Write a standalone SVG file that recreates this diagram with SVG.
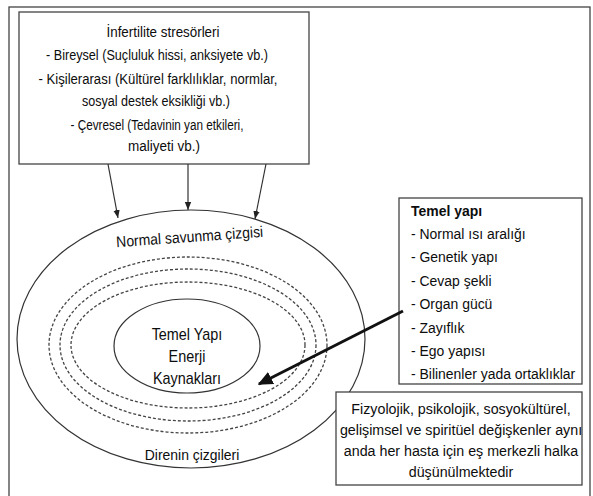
<svg xmlns="http://www.w3.org/2000/svg" width="593" height="496" viewBox="0 0 593 496">
<style>
  .t{font-family:"Liberation Sans",Arial,sans-serif;font-size:15.5px;fill:#0d0d0d}
  .c{text-anchor:middle}
  .b{font-weight:bold}
  .box{fill:#fff;stroke:#444;stroke-width:1.3}
  .ln{fill:none;stroke:#333;stroke-width:1.2}
  .dash{fill:none;stroke:#444;stroke-width:1.3;stroke-dasharray:3 2}
</style>
<defs>
  <marker id="ah" viewBox="0 0 10 10" refX="10" refY="5" markerWidth="8" markerHeight="8" markerUnits="userSpaceOnUse" orient="auto">
    <path d="M0,1 L10,5 L0,9 z" fill="#222"/>
  </marker>
  <marker id="ahb" viewBox="0 0 10 10" refX="9" refY="5" markerWidth="5" markerHeight="5" orient="auto">
    <path d="M0,0.5 L10,5 L0,9.5 z" fill="#111"/>
  </marker>
</defs>
<rect x="9" y="7" width="581" height="500" fill="#fff" stroke="#444" stroke-width="1.3"/>

<g id="model">
  <ellipse class="ln" cx="191" cy="339" rx="174" ry="129"/>
  <ellipse class="dash" cx="188" cy="345" rx="139" ry="88"/>
  <ellipse class="dash" cx="188" cy="345" rx="128" ry="76"/>
  <ellipse class="dash" cx="188" cy="345" rx="117" ry="63"/>
  <g transform="translate(190,242) rotate(-4) scale(0.9,1)">
    <text class="t c" x="0" y="0">Normal savunma çizgisi</text>
  </g>
  <g transform="translate(192,460) scale(0.9,1)">
    <text class="t c" x="0" y="0">Direnin çizgileri</text>
  </g>
</g>

<g id="core">
  <ellipse class="ln" cx="187" cy="346" rx="73" ry="47"/>
  <g transform="translate(187,0) scale(0.9,1)">
    <text class="t c" x="0" y="340" style="font-size:16px">Temel Yapı</text>
    <text class="t c" x="0" y="362" style="font-size:16px">Enerji</text>
    <text class="t c" x="0" y="384" style="font-size:16px">Kaynakları</text>
  </g>
</g>

<g id="stressors">
  <rect class="box" x="19" y="12" width="290" height="152"/>
  <text class="t c" x="163" y="37" textLength="113" lengthAdjust="spacingAndGlyphs">İnfertilite stresörleri</text>
  <text class="t c" x="157" y="60" textLength="222" lengthAdjust="spacingAndGlyphs">- Bireysel (Suçluluk hissi, anksiyete vb.)</text>
  <text class="t c" x="158" y="84" textLength="239" lengthAdjust="spacingAndGlyphs">- Kişilerarası (Kültürel farklılıklar, normlar,</text>
  <text class="t c" x="156" y="106" textLength="148" lengthAdjust="spacingAndGlyphs">sosyal destek eksikliği vb.)</text>
  <text class="t c" x="157" y="130" textLength="173" lengthAdjust="spacingAndGlyphs">- Çevresel (Tedavinin yan etkileri,</text>
  <text class="t c" x="164" y="151" textLength="72" lengthAdjust="spacingAndGlyphs">maliyeti vb.)</text>
</g>

<g id="temel">
  <rect class="box" x="399" y="198" width="183" height="186"/>
  <g transform="translate(411,0) scale(0.9,1)">
    <text class="t b" x="0" y="216">Temel yapı</text>
    <text class="t" x="0" y="239">- Normal ısı aralığı</text>
    <text class="t" x="0" y="262">- Genetik yapı</text>
    <text class="t" x="0" y="286">- Cevap şekli</text>
    <text class="t" x="0" y="309">- Organ gücü</text>
    <text class="t" x="0" y="333">- Zayıflık</text>
    <text class="t" x="0" y="356">- Ego yapısı</text>
    <text class="t" x="0" y="379">- Bilinenler yada ortaklıklar</text>
  </g>
</g>

<g id="note">
  <rect class="box" x="336" y="392" width="246" height="93"/>
  <g transform="translate(461,0) scale(0.92,1)">
    <text class="t c" x="0" y="414">Fizyolojik, psikolojik, sosyokültürel,</text>
    <text class="t c" x="0" y="435">gelişimsel ve spiritüel değişkenler aynı</text>
    <text class="t c" x="0" y="456">anda her hasta için eş merkezli halka</text>
    <text class="t c" x="0" y="477">düşünülmektedir</text>
  </g>
</g>

<g id="connectors">
  <line class="ln" x1="108" y1="164" x2="118" y2="218" marker-end="url(#ah)"/>
  <line class="ln" x1="188" y1="164" x2="188" y2="210" marker-end="url(#ah)"/>
  <line class="ln" x1="266" y1="164" x2="255" y2="219" marker-end="url(#ah)"/>
  <line x1="403" y1="311" x2="259" y2="384" stroke="#111" stroke-width="3" marker-end="url(#ahb)"/>
</g>
</svg>
